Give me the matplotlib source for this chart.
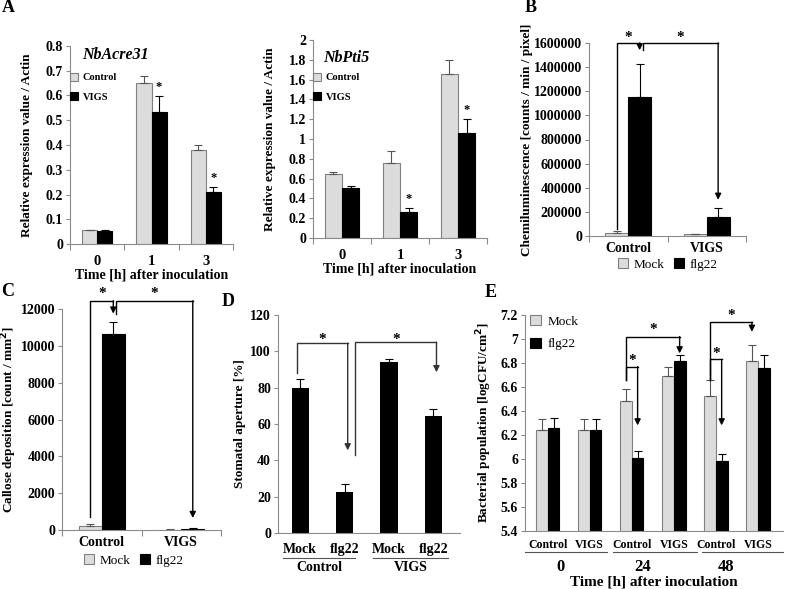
import matplotlib
matplotlib.use("Agg")
import matplotlib.pyplot as plt
import numpy as np

plt.rcParams['font.family'] = ['Liberation Serif', 'DejaVu Serif']
plt.rcParams['font.weight'] = 'bold'
plt.rcParams['axes.labelweight'] = 'bold'

# ---------------- data ----------------
a_times = ['0', '1', '3']
acre_control = [0.055, 0.652, 0.378]
acre_control_err = [0.003, 0.028, 0.020]
acre_vigs = [0.052, 0.532, 0.212]
acre_vigs_err = [0.004, 0.065, 0.018]
acre_sig = [False, True, True]

pti_control = [0.650, 0.755, 1.655]
pti_control_err = [0.020, 0.125, 0.145]
pti_vigs = [0.505, 0.260, 1.060]
pti_vigs_err = [0.025, 0.040, 0.140]
pti_sig = [False, True, True]

plants = ['Control', 'VIGS']
ros_mock = [25000, 15000]
ros_mock_err = [15000, 5000]
ros_flg22 = [1150000, 155000]
ros_flg22_err = [275000, 80000]

callose_mock = [230, 20]
callose_mock_err = [100, 10]
callose_flg22 = [10650, 80]
callose_flg22_err = [650, 40]

stoma_labels = ['Mock', 'flg22', 'Mock', 'flg22']
stoma_values = [80, 22.5, 94, 64.5]
stoma_err = [5, 4.5, 2, 4]

e_groups = ['Control', 'VIGS', 'Control', 'VIGS', 'Control', 'VIGS']
e_times = ['0', '24', '48']
bact_mock = [6.24, 6.24, 6.485, 6.69, 6.525, 6.82]
bact_mock_err = [0.09, 0.09, 0.095, 0.08, 0.13, 0.13]
bact_flg22 = [6.26, 6.24, 6.01, 6.82, 5.985, 6.76]
bact_flg22_err = [0.08, 0.09, 0.06, 0.05, 0.055, 0.11]

GRAY = '#dcdcdc'
EDGE = '#808080'
SPINE = '#8c8c8c'

W, H = 790, 589
fig = plt.figure(figsize=(W / 100, H / 100), dpi=100)


def axes_px(x0, x1, y0, y1):
    return fig.add_axes([x0 / W, 1 - y1 / H, (x1 - x0) / W, (y1 - y0) / H])


def style(ax, tick_fs=10):
    for s in ['top', 'right']:
        ax.spines[s].set_visible(False)
    for s in ['left', 'bottom']:
        ax.spines[s].set_color(SPINE)
        ax.spines[s].set_linewidth(0.8)
    ax.tick_params(axis='y', direction='out', length=3, width=0.8, color=SPINE,
                   labelsize=tick_fs, pad=2)


def pair_bars(ax, x, v1, e1, v2, e2, w, lab1, lab2):
    x = np.asarray(x, dtype=float)
    b1 = ax.bar(x - w / 2, v1, w, color=GRAY, edgecolor=EDGE, linewidth=0.8, label=lab1,
                yerr=[np.zeros(len(v1)), e1],
                error_kw=dict(ecolor='#555555', elinewidth=0.8, capsize=3, capthick=0.8))
    b2 = ax.bar(x + w / 2, v2, w, color='black', edgecolor='black', linewidth=0.8, label=lab2,
                yerr=[np.zeros(len(v2)), e2],
                error_kw=dict(ecolor='black', elinewidth=0.8, capsize=3, capthick=0.8))
    return b1, b2


def group_xaxis(ax, labels, fs=10, pad=4):
    n = len(labels)
    ax.set_xlim(-0.5, n - 0.5)
    ax.set_xticks(np.arange(n + 1) - 0.5)
    ax.set_xticklabels([])
    ax.set_xticks(np.arange(n), minor=True)
    ax.set_xticklabels(labels, minor=True, fontsize=fs, fontweight='bold')
    ax.tick_params(axis='x', which='major', direction='out', length=4, width=0.8, color=SPINE)
    ax.tick_params(axis='x', which='minor', length=0, pad=pad)


def bracket(ax, x0, x1, y0, ytop, y1, star_y, lw=1.0, col='black'):
    ax.plot([x0, x0, x1], [y0, ytop, ytop], color=col, lw=lw, clip_on=False,
            solid_joinstyle='miter')
    ax.annotate('', xy=(x1, y1), xytext=(x1, ytop),
                arrowprops=dict(arrowstyle='-|>', color=col, lw=lw, mutation_scale=9,
                                shrinkA=0, shrinkB=0), annotation_clip=False)
    ax.text((x0 + x1) / 2, star_y, '*', ha='center', va='center', fontsize=11,
            fontweight='bold')


# ---------------- A: NbAcre31 ----------------
ax = axes_px(70, 233, 46, 244)
style(ax)
xa = np.arange(len(a_times))
pair_bars(ax, xa, acre_control, acre_control_err, acre_vigs, acre_vigs_err, 0.28,
          'Control', 'VIGS')
ax.set_ylim(0, 0.8)
ax.set_yticks(np.arange(0, 0.81, 0.1))
ax.set_yticklabels(['0'] + [f'{v:.1f}' for v in np.arange(0.1, 0.81, 0.1)])
group_xaxis(ax, a_times, fs=10.5, pad=8)
for i, s in enumerate(acre_sig):
    if s:
        ax.text(i + 0.14, acre_vigs[i] + acre_vigs_err[i] + 0.012, '*', ha='center',
                va='bottom', fontsize=9)
ax.text(0.074, 0.955, 'NbAcre31', transform=ax.transAxes, fontsize=11.5,
        fontstyle='italic', fontweight='bold', va='center', ha='left')
ax.legend(loc='upper left', bbox_to_anchor=(0.0, 0.865), frameon=False, fontsize=7.5,
          handlelength=0.8, handleheight=0.8, handletextpad=0.4, labelspacing=0.95,
          borderpad=0, borderaxespad=0)
ax.set_xlabel('Time [h] after inoculation', fontsize=10, labelpad=0)
ax.set_ylabel('Relative expression value / Actin', fontsize=9.5)
ax.yaxis.set_label_coords(-0.227, 0.5)

# ---------------- A: NbPti5 ----------------
ax = axes_px(313, 487, 40, 238)
style(ax)
pair_bars(ax, xa, pti_control, pti_control_err, pti_vigs, pti_vigs_err, 0.30,
          'Control', 'VIGS')
ax.set_ylim(0, 2)
ax.set_yticks(np.arange(0, 2.01, 0.2))
ax.set_yticklabels(['0', '0.2', '0.4', '0.6', '0.8', '1', '1.2', '1.4', '1.6', '1.8', '2'])
group_xaxis(ax, a_times, fs=10.5, pad=8)
for i, s in enumerate(pti_sig):
    if s:
        ax.text(i + 0.15, pti_vigs[i] + pti_vigs_err[i] + 0.03, '*', ha='center',
                va='bottom', fontsize=9)
ax.text(0.057, 0.909, 'NbPti5', transform=ax.transAxes, fontsize=11.5,
        fontstyle='italic', fontweight='bold', va='center', ha='left')
ax.legend(loc='upper left', bbox_to_anchor=(0.0, 0.835), frameon=False, fontsize=7.5,
          handlelength=0.8, handleheight=0.8, handletextpad=0.4, labelspacing=0.95,
          borderpad=0, borderaxespad=0)
ax.set_xlabel('Time [h] after inoculation', fontsize=10, labelpad=0)
ax.set_ylabel('Relative expression value / Actin', fontsize=9.5)
ax.yaxis.set_label_coords(-0.213, 0.5)

# ---------------- B: ROS ----------------
ax = axes_px(589, 746, 43, 236)
style(ax)
xb = np.arange(len(plants))
wb = 0.29
pair_bars(ax, xb, ros_mock, ros_mock_err, ros_flg22, ros_flg22_err, wb, 'Mock', 'flg22')
ax.set_ylim(0, 1600000)
ax.set_yticks(np.arange(0, 1600001, 200000))
ax.set_yticklabels([f'{int(v)}' for v in np.arange(0, 1600001, 200000)])
group_xaxis(ax, plants, fs=10, pad=4)
bracket(ax, 0 - wb / 2, 0 + wb / 2, 60000, 1600000, 1540000, 1645000)
bracket(ax, 0 + wb / 2 + 0.04, 1 + wb / 2, 1540000, 1600000, 300000, 1645000)
ax.legend(loc='upper center', bbox_to_anchor=(0.5, -0.115), ncol=2, frameon=False,
          prop={'weight': 'normal', 'size': 9.5},
          handlelength=0.8, handleheight=0.8, handletextpad=0.4, columnspacing=0.7,
          borderpad=0, borderaxespad=0)
ax.set_ylabel('Chemiluminescence [counts / min / pixel]', fontsize=9.5)
ax.yaxis.set_label_coords(-0.357, 0.5)

# ---------------- C: Callose ----------------
ax = axes_px(62, 221, 309, 530)
style(ax)
wc = 0.29
pair_bars(ax, xb, callose_mock, callose_mock_err, callose_flg22, callose_flg22_err, wc,
          'Mock', 'flg22')
ax.set_ylim(0, 12000)
ax.set_yticks(np.arange(0, 12001, 2000))
group_xaxis(ax, plants, fs=10, pad=4)
bracket(ax, 0 - wc / 2, 0 + wc / 2, 700, 12450, 11750, 12850)
bracket(ax, 0 + wc / 2 + 0.04, 1 + wc / 2, 11750, 12450, 650, 12850)
ax.legend(loc='upper center', bbox_to_anchor=(0.45, -0.11), ncol=2, frameon=False,
          prop={'weight': 'normal', 'size': 9.5},
          handlelength=0.8, handleheight=0.8, handletextpad=0.4, columnspacing=0.7,
          borderpad=0, borderaxespad=0)
ax.set_ylabel('Callose deposition [count / mm$^{2}$]', fontsize=9.5)
ax.yaxis.set_label_coords(-0.27, 0.5)

# ---------------- D: Stomata ----------------
ax = axes_px(278, 460, 315, 533)
style(ax)
xd = np.arange(len(stoma_labels))
ax.bar(xd, stoma_values, 0.39, color='black',
       yerr=[np.zeros(len(stoma_err)), stoma_err],
       error_kw=dict(ecolor='black', elinewidth=0.8, capsize=3, capthick=0.8))
ax.set_xlim(-0.5, 3.6)
ax.set_ylim(0, 120)
ax.set_yticks(np.arange(0, 121, 20))
ax.set_xticks(xd)
ax.set_xticklabels(stoma_labels, fontsize=10, fontweight='bold')
ax.tick_params(axis='x', length=0, pad=7)
bracket(ax, 0 - 0.07, 1 + 0.07, 88, 104.5, 45.5, 106.5, col='#333333')
bracket(ax, 1 + 0.24, 3 + 0.07, 43, 105, 88.5, 106.5, col='#333333')
for (a, b), name in zip([(-0.39, 1.24), (1.64, 3.33)], ['Control', 'VIGS']):
    ax.plot([a, b], [-0.115, -0.115], color='#555555', lw=0.8, clip_on=False,
            transform=ax.get_xaxis_transform())
    ax.text((a + b) / 2, -0.158, name, ha='center', va='center', fontsize=10,
            fontweight='bold', transform=ax.get_xaxis_transform())
ax.set_ylabel('Stomatal aperture [%]', fontsize=9.5)
ax.yaxis.set_label_coords(-0.176, 0.5)

# ---------------- E: Bacterial population ----------------
ax = axes_px(525, 783, 315, 531)
style(ax)
xe = np.arange(len(e_groups))
we = 0.28
pair_bars(ax, xe, bact_mock, bact_mock_err, bact_flg22, bact_flg22_err, we, 'Mock', 'flg22')
ax.set_xlim(-0.54, 5.6)
ax.set_ylim(5.4, 7.2)
ax.set_yticks(np.arange(5.4, 7.21, 0.2))
ax.set_yticklabels(['5.4', '5.6', '5.8', '6', '6.2', '6.4', '6.6', '6.8', '7', '7.2'])
ax.set_xticks(xe)
ax.set_xticklabels(e_groups, fontsize=8.5, fontweight='bold')
ax.tick_params(axis='x', length=0, pad=6)
bracket(ax, 2 - we / 2, 3 + we / 2, 6.66, 7.02, 6.88, 7.08)
bracket(ax, 2 - we / 2, 2 + we / 2, 6.66, 6.77, 6.28, 6.82)
bracket(ax, 4 - we / 2, 5 - we / 2, 6.66, 7.14, 7.06, 7.2)
bracket(ax, 4 - we / 2, 4 + we / 2, 6.66, 6.83, 6.28, 6.88)
seg = [(-0.54, 1.41), (1.55, 3.56), (3.68, 5.6)]
for (a, b), t, tx in zip(seg, e_times, [0.3, 2.25, 4.25]):
    ax.plot([a, b], [-0.097, -0.097], color='#555555', lw=0.8, clip_on=False,
            transform=ax.get_xaxis_transform())
    ax.text(tx, -0.168, t, ha='center', va='center', fontsize=12, fontweight='bold',
            transform=ax.get_xaxis_transform())
ax.text(0.5, -0.236, 'Time [h] after inoculation', ha='center', va='center', fontsize=11,
        fontweight='bold', transform=ax.transAxes)
ax.legend(loc='upper left', bbox_to_anchor=(0.02, 1.0), frameon=False,
          prop={'weight': 'normal', 'size': 9.5},
          handlelength=0.8, handleheight=0.8, handletextpad=0.5, labelspacing=0.75,
          borderpad=0, borderaxespad=0)
ax.set_ylabel('Bacterial population [logCFU/cm$^{2}$]', fontsize=9.5)
ax.yaxis.set_label_coords(-0.12, 0.5)

# ---------------- panel letters ----------------
for letter, (x, y) in {'A': (8, 8), 'B': (531, 8), 'C': (8, 292), 'D': (228, 301),
                       'E': (491, 293)}.items():
    fig.text(x / W, 1 - y / H, letter, fontsize=13, fontweight='bold', ha='center',
             va='center')

fig.savefig('out.png', dpi=100)
